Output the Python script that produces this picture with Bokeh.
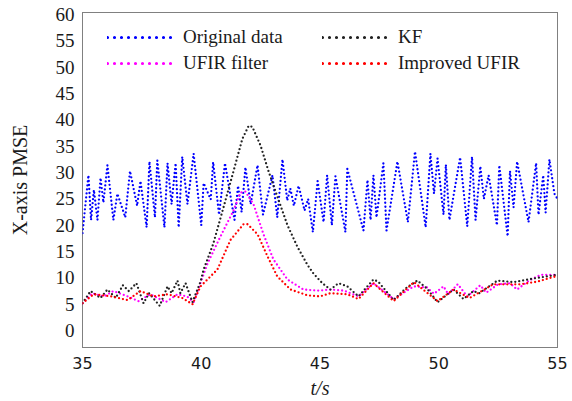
from bokeh.plotting import figure
from bokeh.models import Range1d, FixedTicker, Legend, LegendItem
from bokeh.embed import file_html
from bokeh.resources import INLINE

# ---- data ----
orig_t = [35.0, 35.25, 35.36, 35.48, 35.63, 35.76, 35.88, 36.05, 36.3, 36.47, 36.8, 37.0, 37.3, 37.44,
          37.7, 37.82, 38.05, 38.15, 38.45, 38.58, 38.75, 38.92, 39.05, 39.2, 39.42, 39.68,
          40.0, 40.1, 40.4, 40.5, 40.75, 41.0, 41.4, 41.55, 41.7, 41.86, 42.08, 42.37, 42.6, 43.0,
          43.2, 43.42, 43.62, 43.75, 43.9, 44.1, 44.35, 44.5, 44.7, 44.9, 45.15, 45.3, 45.5, 45.65,
          46.07, 46.15, 46.83, 47.0, 47.13, 47.25, 47.38, 47.67, 47.8, 48.26, 48.7, 49.0, 49.45,
          49.65, 49.8, 49.95, 50.2, 50.3, 50.45, 50.6, 50.9, 51.2, 51.4, 51.55, 51.75, 51.9, 52.1,
          52.45, 52.55, 52.9, 53.0, 53.15, 53.3, 53.78, 54.1, 54.2, 54.4, 54.5, 54.66, 54.87, 55.0]
orig_v = [18.5, 29.5, 21.0, 26.7, 21.0, 29.0, 24.3, 31.4, 21.0, 26.0, 21.5, 30.3, 23.7, 28.4,
          19.6, 32.1, 21.5, 32.3, 19.6, 31.8, 24.0, 31.8, 19.6, 33.0, 24.0, 33.6,
          20.0, 28.0, 24.9, 32.0, 22.0, 31.8, 21.0, 27.5, 22.5, 31.0, 24.0, 31.4, 22.0, 29.5,
          21.5, 32.5, 24.7, 27.0, 23.7, 27.5, 22.8, 25.0, 18.7, 28.4, 20.6, 29.5, 20.0, 29.3,
          18.7, 30.7, 19.0, 28.6, 21.0, 29.5, 21.5, 31.8, 19.0, 32.1, 20.6, 34.0, 19.6,
          33.6, 26.0, 32.7, 22.0, 31.5, 21.0, 25.0, 32.9, 19.8, 33.0, 21.0, 31.2, 25.0, 29.5,
          20.0, 31.4, 17.9, 30.3, 23.4, 32.1, 20.6, 31.8, 22.0, 29.5, 22.4, 32.5, 26.0, 25.0]

kf_t = [35.0, 35.34, 35.76, 36.05, 36.4, 36.7, 36.95, 37.27, 37.57, 37.8, 38.25, 38.58, 38.75,
        39.0, 39.12, 39.34, 39.63, 39.97, 40.1, 40.5, 40.95, 41.36, 41.73, 42.0, 42.15, 42.5,
        42.83, 43.2, 43.63, 44.05, 44.47, 44.73, 45.1, 45.44, 45.78, 46.15, 46.62, 47.25, 47.45,
        48.1, 48.6, 49.1, 49.5, 49.95, 50.62, 51.04, 51.46, 51.7, 52.47, 53.15, 54.0, 55.0]
kf_v = [5.2, 7.5, 6.2, 7.8, 6.2, 8.6, 7.5, 9.0, 5.2, 7.1, 4.7, 8.4, 7.1,
        9.5, 7.1, 9.0, 5.4, 9.3, 11.6, 16.4, 23.6, 30.3, 36.4, 38.9, 38.7, 35.1,
        30.3, 25.5, 20.0, 15.9, 12.5, 10.8, 9.0, 7.8, 9.0, 8.4, 6.5, 9.7, 9.3,
        5.8, 8.0, 9.5, 8.0, 5.4, 7.8, 6.0, 7.5, 7.1, 9.5, 9.2, 9.9, 10.6]

ufir_t = [35.0, 35.4, 35.9, 36.3, 36.9, 37.36, 37.86, 38.5, 39.0, 39.4, 39.68, 40.26, 40.8,
          41.36, 41.65, 41.86, 42.2, 42.62, 43.04, 43.63, 44.3, 44.94, 45.44, 46.0, 46.62,
          47.25, 48.1, 48.95, 49.5, 49.8, 50.2, 50.4, 50.8, 51.2, 51.75, 52.0, 52.5, 53.0,
          53.3, 53.8, 54.3, 55.0]
ufir_v = [5.2, 7.1, 6.5, 7.5, 6.5, 5.6, 6.9, 5.4, 6.9, 6.5, 5.4, 12.7, 17.8,
          22.8, 26.2, 26.4, 24.0, 18.3, 13.5, 9.7, 7.8, 7.6, 7.8, 7.6, 6.5,
          9.0, 6.0, 8.4, 8.2, 7.0, 8.4, 6.9, 8.8, 6.5, 8.6, 7.2, 8.8, 9.0,
          7.8, 9.5, 10.6, 10.6]

iufir_t = [35.0, 35.47, 36.2, 36.9, 37.44, 38.0, 38.58, 39.2, 39.63, 39.97, 40.68, 41.23, 41.78,
           41.95, 42.37, 42.8, 43.2, 43.76, 44.47, 45.0, 45.44, 46.15, 46.62, 47.25, 48.1,
           48.95, 49.95, 50.62, 51.3, 52.3, 53.44, 54.15, 55.0]
iufir_v = [5.2, 6.9, 6.5, 5.8, 7.5, 6.5, 6.9, 6.2, 5.0, 8.4, 11.6, 17.2, 20.2,
           20.2, 18.3, 14.0, 10.3, 7.8, 6.7, 6.5, 7.1, 6.9, 6.0, 9.0, 5.6,
           9.2, 5.6, 7.8, 6.2, 8.8, 8.8, 9.3, 10.4]

x_ticks = [35, 40, 45, 50, 55]
y_ticks = [0, 5, 10, 15, 20, 25, 30, 35, 40, 45, 50, 55, 60]
labels = ["Original data", "UFIR filter", "KF", "Improved UFIR"]
colors = ["#0000ff", "#ff00ff", "#222222", "#ff0000"]

p = figure(width=572, height=401, output_backend="svg", toolbar_location=None,
           x_range=Range1d(35, 55), y_range=Range1d(-3.2, 60.4),
           min_border_left=82, min_border_right=15, min_border_top=12, min_border_bottom=49)
p.background_fill_color = "white"
p.border_fill_color = "white"
p.grid.visible = False
p.outline_line_color = "black"
p.outline_line_width = 1
p.outline_line_dash = "1 1"

serif = "Liberation Serif"
for ax in (p.xaxis[0], p.yaxis[0]):
    ax.axis_line_color = None
    ax.major_tick_line_color = None
    ax.minor_tick_line_color = None
    ax.major_label_text_color = "#1a1a1a"
    ax.axis_label_text_color = "#1a1a1a"

p.xaxis.ticker = FixedTicker(ticks=x_ticks)
p.yaxis.ticker = FixedTicker(ticks=y_ticks)
p.xaxis.major_label_text_font = "DejaVu Sans"
p.xaxis.major_label_text_font_size = "16px"
p.xaxis.major_label_standoff = 3
p.yaxis.major_label_text_font = serif
p.yaxis.major_label_text_font_size = "19px"
p.yaxis.major_label_standoff = 2

p.xaxis.axis_label = "t/s"
p.xaxis.axis_label_text_font = serif
p.xaxis.axis_label_text_font_style = "italic"
p.xaxis.axis_label_text_font_size = "20px"
p.xaxis.axis_label_standoff = 5
p.yaxis.axis_label = "X-axis PMSE"
p.yaxis.axis_label_text_font = serif
p.yaxis.axis_label_text_font_style = "normal"
p.yaxis.axis_label_text_font_size = "20px"
p.yaxis.axis_label_standoff = 22

nan = float("nan")
series = [(orig_t, orig_v), (ufir_t, ufir_v), (kf_t, kf_v), (iufir_t, iufir_v)]
legend_rends = []
for (t, v), c in zip(series, colors):
    p.line(t, v, line_color=c, line_width=2.3, line_dash="0 4", line_cap="round")
    # sparser, rounder dots for the legend sample, as in the reference (no visible data)
    legend_rends.append(p.line([nan, nan], [nan, nan], line_color=c, line_width=3.2,
                               line_dash="0 7", line_cap="round"))

def make_legend(items, x):
    return Legend(items=items, location=(x, 273), orientation="vertical",
                  glyph_width=68, glyph_height=20, label_height=20, label_standoff=8,
                  spacing=4, padding=0, margin=0, border_line_color=None,
                  background_fill_alpha=0, label_text_font=serif,
                  label_text_font_size="19px", label_text_color="#1a1a1a")

legA = make_legend([LegendItem(label=labels[0], renderers=[legend_rends[0]]),
                    LegendItem(label=labels[1], renderers=[legend_rends[1]])], 25)
legB = make_legend([LegendItem(label=labels[2], renderers=[legend_rends[2]]),
                    LegendItem(label=labels[3], renderers=[legend_rends[3]])], 240)
p.add_layout(legA)
p.add_layout(legB)

open("out.html", "w").write(file_html(p, INLINE))
